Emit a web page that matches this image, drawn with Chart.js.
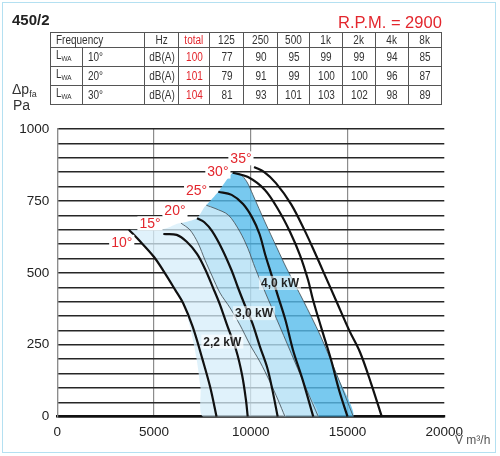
<!DOCTYPE html>
<html>
<head>
<meta charset="utf-8">
<script src="https://cdn.jsdelivr.net/npm/chart.js@4.4.1/dist/chart.umd.min.js"></script>
<style>
  body { margin: 0; background: #fff; font-family: 'Liberation Sans', Arial, sans-serif; }
  #wrap { position: relative; width: 500px; height: 456px; overflow: hidden; }
  #frame { position: absolute; left: 2px; top: 2px; width: 492px; height: 449px; border: 1.5px solid #b4e0f1; }
  canvas { position: absolute; left: 0; top: 0; }
  .txt { position: absolute; color: #333; white-space: nowrap; line-height: 1.15; }
  #model { left: 12px; top: 11px; font-size: 15px; font-weight: bold; color: #222; }
  #rpm { left: 338px; top: 13px; font-size: 16.5px; color: #e3262d; }
  #ylab { left: 12px; top: 81px; font-size: 14px; }
  #ylab sub { font-size: 9px; vertical-align: -3px; }
  #yunit { left: 13px; top: 97px; font-size: 14px; }
  #xlab { left: 455px; top: 434px; font-size: 12px; color: #555; }
  #sound { position: absolute; left: 50px; top: 32px; border-collapse: collapse; table-layout: fixed; font-size: 12.5px; color: #333; }
  #sound td { border: 1px solid #555; height: 14px; padding: 0; text-align: center; line-height: 14px; overflow: hidden; white-space: nowrap; }
  #sound td span { display: inline-block; transform: scaleX(0.8); }
  #sound td.left { text-align: left; padding-left: 5px; }
  #sound td.left span { transform-origin: left center; }
  #sound sub { font-size: 8px; vertical-align: -2px; }
  .red { color: #e3262d; }
</style>
</head>
<body>
<div id="wrap">
  <canvas id="fanChart" width="500" height="456"></canvas>
  <div id="frame"></div>
  <div class="txt" id="model">450/2</div>
  <div class="txt" id="rpm">R.P.M. = 2900</div>
  <div class="txt" id="ylab">&Delta;p<sub>fa</sub></div>
  <div class="txt" id="yunit">Pa</div>
  <div class="txt" id="xlab">V&#775; m³/h</div>
  <table id="sound"></table>
</div>
<script>
// Sound table
const freqBands = ['125', '250', '500', '1k', '2k', '4k', '8k'];
const soundAngles = ['10°', '20°', '30°'];
const soundTotal = [100, 101, 104];
const lwa10 = [77, 90, 95, 99, 99, 94, 85];
const lwa20 = [79, 91, 99, 100, 100, 96, 87];
const lwa30 = [81, 93, 101, 103, 102, 98, 89];

// Fan curves per blade angle: flow (m3/h) and pressure (Pa)
const angles = ['10°', '15°', '20°', '25°', '30°', '35°'];
const flow10 = [3700, 4300, 5000, 5550, 6100, 6500, 7000, 7500, 7900, 8230];
const press10 = [650, 608, 555, 500, 440, 395, 312, 200, 103, 0];
const flow15 = [5480, 6170, 6690, 7220, 7630, 8050, 8410, 8770, 9240, 9550, 9750, 9840];
const press15 = [635, 632, 608, 566, 514, 448, 389, 319, 232, 145, 58, 0];
const flow20 = [7220, 7600, 8000, 8500, 9000, 9330, 9680, 10080, 10480, 10850, 11110, 11390];
const press20 = [690, 676, 645, 585, 510, 450, 390, 325, 242, 170, 95, 0];
const flow25 = [8320, 9010, 9600, 10080, 10450, 10750, 11070, 11400, 11790, 12180, 12680, 13230];
const press25 = [782, 771, 739, 691, 635, 562, 493, 420, 336, 232, 128, 0];
const flow30 = [9065, 9855, 10730, 11460, 12030, 12540, 12960, 13220, 13680, 14150, 14560, 15000];
const press30 = [848, 833, 788, 715, 642, 562, 475, 405, 301, 197, 93, 0];
const flow35 = [10170, 10680, 11300, 12080, 12800, 13320, 13780, 14400, 15080, 15640, 16210, 16770];
const press35 = [868, 851, 812, 739, 645, 569, 499, 405, 301, 225, 117, 0];

// Motor power limits (borders of the coloured zones)
const powerLabels = ['2,2 kW', '3,0 kW', '4,0 kW'];
const lim22Flow = [6390, 6860, 7270, 7630, 8000, 8410, 8930, 9440, 9960, 10480, 10990, 11410, 11770];
const lim22Press = [673, 649, 604, 545, 489, 430, 378, 319, 250, 190, 121, 58, 0];
const lim30Flow = [7700, 8150, 8840, 9420, 9850, 10230, 10760, 11510, 12280, 12880, 13490];
const lim30Press = [735, 724, 701, 645, 585, 516, 430, 312, 190, 95, 0];
const lim40Flow = [9065, 9440, 9800, 10110, 10730, 11350, 11840, 12700, 13580, 14450, 15300];
const lim40Press = [848, 844, 816, 771, 677, 587, 517, 405, 284, 145, 0];

// Stall line on top of the zones and left edge of the light zone
const stallFlow = [3700, 5500, 6390, 7220, 7700, 8320, 9065];
const stallPress = [650, 652, 673, 690, 735, 782, 848];
const edgeFlow = [3700, 4300, 5000, 5550, 6100, 6500, 6900, 7200, 7400, 7550];
const edgePress = [650, 608, 555, 500, 440, 395, 300, 200, 100, 0];

// Where the labels sit (data units)
const angleLabelFlow = [3330, 4790, 6080, 7200, 8300, 9490];
const angleLabelPress = [608, 672, 718, 786, 852, 898];
const powerLabelFlow = [8530, 10170, 11510];
const powerLabelPress = [261, 360, 465];

const RED = '#e3262d';

function toPoints(xs, ys) {
    return xs.map((v, i) => ({ x: v, y: ys[i] }));
}

// Build the sound table
function buildTable() {
    const table = document.getElementById('sound');
    const widths = [32, 62, 34, 31, 34, 34, 32, 33, 33, 33, 33];
    let html = '<colgroup>' + widths.map(w => `<col style="width:${w}px">`).join('') + '</colgroup>';
    html += '<tr><td class="left" colspan="2"><span>Frequency</span></td><td><span>Hz</span></td>'
        + '<td class="red"><span>total</span></td>'
        + freqBands.map(f => `<td><span>${f}</span></td>`).join('') + '</tr>';
    [lwa10, lwa20, lwa30].forEach((row, i) => {
        html += '<tr><td class="left"><span>L<sub>WA</sub></span></td>'
            + `<td class="left"><span>${soundAngles[i]}</span></td>`
            + '<td><span>dB(A)</span></td>'
            + `<td class="red"><span>${soundTotal[i]}</span></td>`
            + row.map(v => `<td><span>${v}</span></td>`).join('') + '</tr>';
    });
    table.innerHTML = html;
}

// Labels with white boxes
const labelPlugin = {
    id: 'curveLabels',
    afterDatasetsDraw(chart) {
        const { ctx, scales: { x, y } } = chart;
        ctx.save();
        ctx.textAlign = 'center';
        ctx.textBaseline = 'middle';
        ctx.font = '14px "Liberation Sans", Arial, sans-serif';
        angles.forEach((name, i) => {
            const px = x.getPixelForValue(angleLabelFlow[i]);
            const py = y.getPixelForValue(angleLabelPress[i]);
            const w = ctx.measureText(name).width;
            ctx.fillStyle = '#fff';
            ctx.fillRect(px - w / 2 - 2, py - 7, w + 4, 14);
            ctx.fillStyle = RED;
            ctx.fillText(name, px, py + 1);
        });
        ctx.font = 'bold 12px "Liberation Sans", Arial, sans-serif';
        powerLabels.forEach((name, i) => {
            const px = x.getPixelForValue(powerLabelFlow[i]);
            const py = y.getPixelForValue(powerLabelPress[i]);
            const w = ctx.measureText(name).width;
            ctx.fillStyle = 'rgba(255,255,255,0.6)';
            ctx.fillRect(px - w / 2 - 2, py - 7, w + 4, 14);
            ctx.fillStyle = '#222';
            ctx.fillText(name, px, py + 1);
        });
        ctx.restore();
    }
};

function initChart() {
    const stall = toPoints(stallFlow, stallPress);
    const edge = toPoints(edgeFlow, edgePress);
    const lim22 = toPoints(lim22Flow, lim22Press);
    const lim30 = toPoints(lim30Flow, lim30Press);
    const lim40 = toPoints(lim40Flow, lim40Press);

    // Closed zones
    const lightZone = [...stall.slice(0, 3), ...lim22.slice(1), ...edge.slice().reverse()];
    const midZone = [...stall.slice(2, 5), ...lim30.slice(1), ...lim22.slice().reverse()];
    const darkZone = [...stall.slice(4, 7), ...lim40.slice(1), ...lim30.slice().reverse()];

    const zone = (data, color) => ({
        data, showLine: true, fill: 'shape', backgroundColor: color,
        borderWidth: 0, pointRadius: 0, tension: 0.25, order: 3
    });
    const limit = data => ({
        data, showLine: true, borderColor: '#4a5860', borderWidth: 0.9,
        pointRadius: 0, tension: 0.3, order: 2
    });
    const curves = [[flow10, press10], [flow15, press15], [flow20, press20],
        [flow25, press25], [flow30, press30], [flow35, press35]];

    const datasets = [
        zone(lightZone, 'rgba(214,238,250,0.75)'),
        zone(midZone, 'rgba(179,224,245,0.8)'),
        zone(darkZone, 'rgba(86,188,235,0.8)'),
        limit(lim22), limit(lim30), limit(lim40),
        ...curves.map(([xs, ys]) => ({
            data: toPoints(xs, ys), showLine: true, borderColor: '#111',
            borderWidth: 2.2, pointRadius: 0, tension: 0.35, order: 1
        }))
    ];

    Chart.defaults.font.family = '"Liberation Sans", Arial, sans-serif';

    new Chart(document.getElementById('fanChart'), {
        type: 'scatter',
        data: { datasets },
        options: {
            responsive: false,
            animation: false,
            layout: { padding: { left: 0, top: 129, right: 55.7, bottom: 14.3 } },
            plugins: {
                legend: { display: false },
                tooltip: { enabled: false },
                filler: { drawTime: 'beforeDatasetsDraw' }
            },
            scales: {
                x: {
                    type: 'linear', min: 0, max: 20000,
                    ticks: {
                        stepSize: 5000, padding: 7, color: '#222', maxRotation: 0,
                        font: { size: 13.5 }, callback: v => String(v)
                    },
                    grid: {
                        color: c => (c.tick && c.tick.value === 20000) ? 'rgba(0,0,0,0)' : '#8c8c8c',
                        lineWidth: 1.2, drawTicks: false
                    },
                    border: { display: true, color: '#111', width: 2.5 },
                    afterFit: s => { s.height = 25; }
                },
                y: {
                    min: 0, max: 1000,
                    ticks: {
                        stepSize: 50, maxTicksLimit: 30, autoSkip: false, padding: 8,
                        color: '#222', font: { size: 13.5 },
                        callback: v => (v % 250 === 0 ? String(v) : '')
                    },
                    grid: { color: '#262626', lineWidth: 1.4, drawTicks: false },
                    border: { color: '#8c8c8c', width: 1.2 },
                    afterFit: s => { s.width = 57.3; }
                }
            }
        },
        plugins: [labelPlugin]
    });
}

document.addEventListener('DOMContentLoaded', () => {
    buildTable();
    initChart();
});
</script>
</body>
</html>
